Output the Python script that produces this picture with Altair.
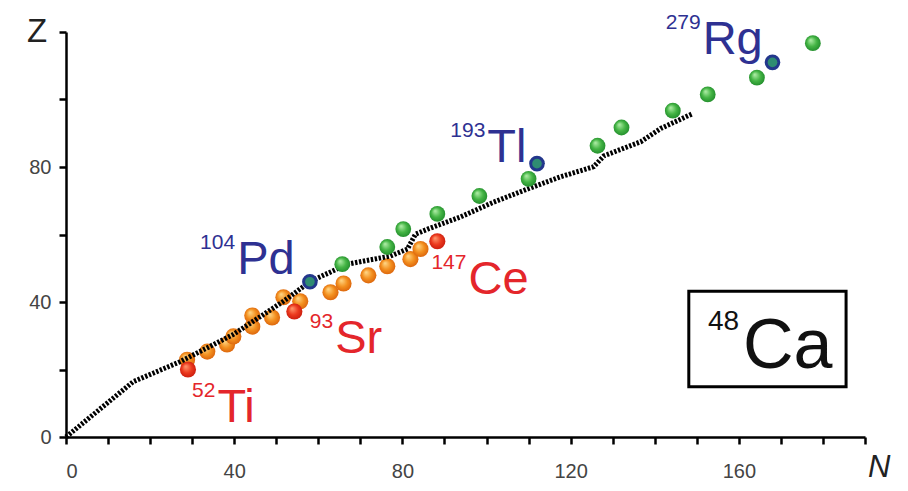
import altair as alt
import pandas as pd

# ---------------- data ----------------
orange_N = [28.8, 33.6, 38.3, 39.8, 44.3, 44.3, 49.0, 51.7, 55.7, 62.9, 66.0, 71.9, 76.4, 81.9, 84.3]
orange_Z = [22.9, 25.3, 27.4, 29.8, 32.7, 36.0, 35.4, 41.4, 40.2, 42.9, 45.5, 47.9, 50.6, 52.7, 55.7]
red_N = [29.0, 54.3, 88.3]
red_Z = [20.0, 37.2, 58.0]
green_N = [65.7, 76.4, 80.2, 88.3, 98.3, 110.0, 126.4, 132.1, 144.3, 152.6, 164.3, 177.6]
green_Z = [51.2, 56.3, 61.6, 66.1, 71.4, 76.5, 86.3, 91.7, 96.7, 101.5, 106.5, 116.7]
blue_N = [58, 112, 168]
blue_Z = [46, 81, 111]
line_N = [0, 16.0, 27.1, 39.8, 51.7, 58.1, 66.9, 77.1, 81.2, 83.1, 86.0, 93.8, 101.7,
          109.8, 117.6, 125.5, 127.9, 136.7, 141.4, 149.0]
line_Z = [0, 16.4, 22.3, 30.4, 40.2, 46.1, 51.2, 53.6, 55.7, 60.1, 61.6, 65.2, 69.6,
          73.5, 77.1, 80.1, 83.3, 87.5, 91.4, 95.8]

x_ticks = list(range(0, 191, 10))
y_ticks = list(range(0, 121, 10))
x_labels = [0, 40, 80, 120, 160]
y_labels = [0, 40, 80]

# annotation labels: element, mass number, anchor (N, Z)
label_el = ["Pd", "Tl", "Rg", "Ce", "Sr", "Ti"]
label_A = ["104", "193", "279", "147", "93", "52"]
label_N = [40.7, 100.2, 151.4, 95.7, 64.0, 36.0]
label_Z = [48.2, 81.5, 113.6, 42.3, 25.0, 4.5]

box_text = "Ca"
box_A = "48"

# ---------------- styles ----------------
BLUE = "#2e3192"
RED = "#e4262b"
FONT = "Liberation Sans"

xs = alt.Scale(domain=[0, 190], nice=False, zero=False)
ys = alt.Scale(domain=[0, 120], nice=False, zero=False)


def sphere(light, mid, dark):
    return alt.RadialGradient(
        gradient="radial",
        stops=[alt.GradientStop(offset=0, color=light),
               alt.GradientStop(offset=0.55, color=mid),
               alt.GradientStop(offset=1, color=dark)],
        x1=0.35, y1=0.3, r1=0, x2=0.5, y2=0.5, r2=0.55)


def df(n, z):
    return pd.DataFrame({"N": n, "Z": z})


def label_expr(vals):
    return "indexof([" + ",".join(str(v) for v in vals) + "], datum.value) >= 0 ? datum.label : ''"


base_x = alt.X("N:Q", scale=xs,
               axis=alt.Axis(values=x_ticks, labelPadding=17, title=None,
                             labelExpr=label_expr(x_labels)))
base_y = alt.Y("Z:Q", scale=ys,
               axis=alt.Axis(values=y_ticks, labelPadding=8, title=None,
                             labelExpr=label_expr(y_labels)))
nx = alt.X("N:Q", scale=xs)
ny = alt.Y("Z:Q", scale=ys)

orange = alt.Chart(df(orange_N, orange_Z)).mark_circle(
    size=260, opacity=1, color=sphere("#ffd98a", "#f3901f", "#d9600a")
).encode(x=base_x, y=base_y)

red = alt.Chart(df(red_N, red_Z)).mark_circle(
    size=260, opacity=1, color=sphere("#ff9a70", "#ec3a1e", "#c81a0c")
).encode(x=nx, y=ny)

line = alt.Chart(df(line_N, line_Z)).mark_line(
    color="black", strokeWidth=5, strokeDash=[2.4, 1.6]
).encode(x=nx, y=ny, order=alt.Order("N:Q"))

green = alt.Chart(df(green_N, green_Z)).mark_circle(
    size=250, opacity=1, color=sphere("#b5f0ac", "#45b545", "#1f8a2a")
).encode(x=nx, y=ny)

blue = alt.Chart(df(blue_N, blue_Z)).mark_point(
    shape="circle", filled=True, fill="#2f8c72", stroke="#23378c", strokeWidth=3,
    size=160, opacity=1
).encode(x=nx, y=ny)

lab = pd.DataFrame({"el": label_el, "A": label_A, "N": label_N, "Z": label_Z})
blue_set = ["Pd", "Tl", "Rg"]
lab["c"] = ["b" if e in blue_set else "r" for e in label_el]
color_scale = alt.Scale(domain=["b", "r"], range=[BLUE, RED])

main_txt = alt.Chart(lab).mark_text(
    align="left", baseline="alphabetic", font=FONT, fontSize=47
).encode(x=nx, y=ny, text="el:N", color=alt.Color("c:N", scale=color_scale, legend=None))

sup_txt = alt.Chart(lab).mark_text(
    align="right", baseline="alphabetic", font=FONT, fontSize=21, dx=-2, dy=-25
).encode(x=nx, y=ny, text="A:N", color=alt.Color("c:N", scale=color_scale, legend=None))

# 48Ca box
box = alt.Chart(pd.DataFrame({"N": [148.1], "N2": [185.5], "Z": [43.2], "Z2": [14.9]})).mark_rect(
    filled=False, stroke="black", strokeWidth=3
).encode(x=nx, x2="N2:Q", y=ny, y2="Z2:Q")

ca_df = pd.DataFrame({"N": [161.0], "Z": [20.5], "el": [box_text], "A": [box_A]})
ca_main = alt.Chart(ca_df).mark_text(
    align="left", baseline="alphabetic", font=FONT, fontSize=70, color="#111111"
).encode(x=nx, y=ny, text="el:N")
ca_sup = alt.Chart(ca_df).mark_text(
    align="right", baseline="alphabetic", font=FONT, fontSize=28, color="#111111", dx=-4, dy=-38
).encode(x=nx, y=ny, text="A:N")

# axis titles
z_title = alt.Chart(pd.DataFrame({"t": ["Z"]})).mark_text(
    align="left", baseline="alphabetic", font=FONT, fontSize=33, color="#222222"
).encode(x=alt.value(-39), y=alt.value(10), text="t:N")
n_title = alt.Chart(pd.DataFrame({"t": ["N"]})).mark_text(
    align="left", baseline="alphabetic", font=FONT, fontSize=31, fontStyle="italic", color="#222222"
).encode(x=alt.value(802), y=alt.value(445), text="t:N")

chart = alt.layer(
    orange, red, line, green, blue, main_txt, sup_txt, box, ca_main, ca_sup, z_title, n_title
).properties(
    width=799, height=405,
    autosize=alt.AutoSizeParams(type="none"),
    padding={"left": 58, "top": 24, "right": 35, "bottom": 46},
    background="white",
).configure_view(
    stroke=None
).configure_axis(
    domainColor="black", domainWidth=2.5, tickColor="black", tickWidth=2.5,
    tickSize=7, labelFont=FONT, labelFontSize=20, labelColor="#444444",
    grid=False, title=None
)

chart.save("out.html", embed_options={"renderer": "svg", "actions": False})
